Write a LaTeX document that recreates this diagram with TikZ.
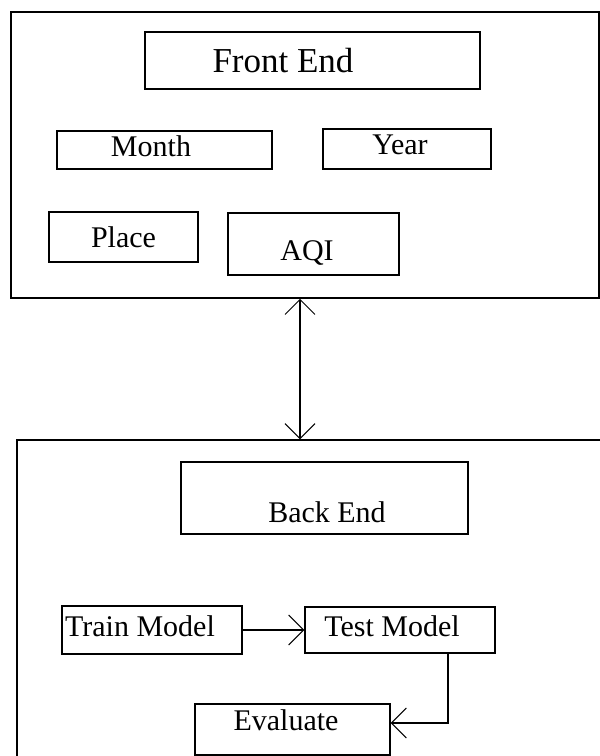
\documentclass[tikz,border=0pt]{standalone}
\usepackage{fontspec}
\setmainfont{Liberation Serif}
\usetikzlibrary{arrows.meta}
\tikzset{
  box/.style={draw, line width=1.2pt, inner sep=0pt},
  frame/.style={draw, line width=1.5pt, inner sep=0pt},
  flow/.style={line width=1.2pt},
}
\begin{document}
\begin{tikzpicture}[x=1pt, y=-1pt, font=\fontsize{30}{36}\selectfont,
  >={Straight Barb[length=15pt,width=30pt,line width=1pt]}]
\clip (0,0) rectangle (600,756);

%--- FRONT END ---
\node[frame, minimum width=588pt, minimum height=286pt] (frontframe) at (305,155) {};
\node[box, minimum width=335pt, minimum height=57pt,
      label={[xshift=-29.5pt, font=\fontsize{35}{42}\selectfont]center:Front End}] (front) at (312.5,60.5) {};
\node[box, minimum width=215pt, minimum height=38pt,
      label={[xshift=-13.5pt, yshift=4pt]center:Month}] (month) at (164.5,150) {};
\node[box, minimum width=168pt, minimum height=40pt,
      label={[xshift=-7pt, yshift=4pt]center:Year}] (year) at (407,149) {};
\node[box, minimum width=149pt, minimum height=50pt,
      label={center:Place}] (place) at (123.5,237) {};
\node[box, minimum width=171pt, minimum height=62pt,
      label={[xshift=-6.5pt, yshift=-9pt]center:AQI}] (aqi) at (313.5,244) {};

%--- BACK END ---
\node[frame, minimum width=603pt, minimum height=340pt] (backframe) at (318.5,610) {};
\node[box, minimum width=287pt, minimum height=72pt,
      label={[xshift=2.5pt, yshift=-14pt]center:Back End}] (back) at (324.5,498) {};
\node[box, minimum width=180pt, minimum height=48pt,
      label={[xshift=-12pt, yshift=4pt]center:Train Model}] (train) at (152,630) {};
\node[box, minimum width=190pt, minimum height=46pt,
      label={[xshift=-8pt, yshift=4pt]center:Test Model}] (test) at (400,630) {};
\node[box, minimum width=195pt, minimum height=51pt,
      label={[xshift=-6.5pt, yshift=9pt]center:Evaluate}] (evaluate) at (292.5,729.5) {};

%--- CONNECTORS ---
\coordinate (link) at (300,0);
\draw[flow, <->] (frontframe.south -| link) -- (backframe.north -| link);
\draw[flow, ->] (train.east) -- (test.west);
\coordinate (turn) at (448,723);
\draw[flow, ->] (test.south -| turn) -- (turn) -- (evaluate.east |- turn);
\end{tikzpicture}
\end{document}
